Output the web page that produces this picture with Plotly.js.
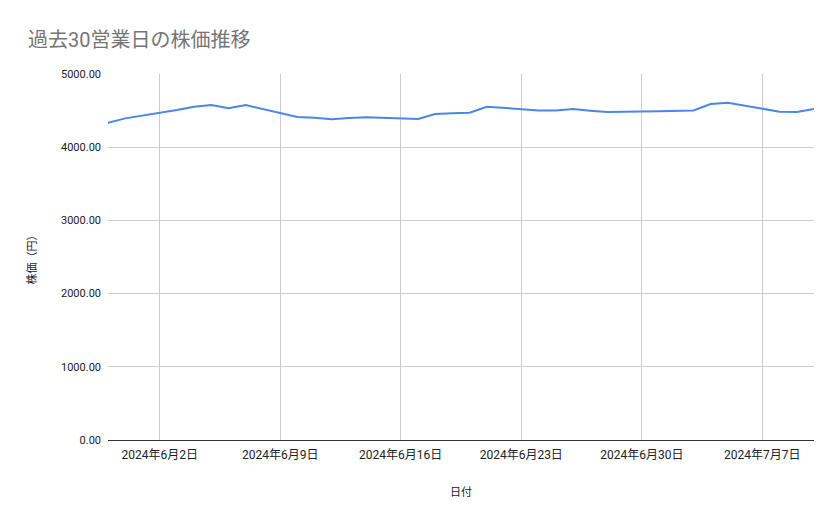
<!DOCTYPE html>
<html>
<head>
<meta charset="utf-8">
<script src="https://cdn.plot.ly/plotly-3.0.1.min.js"></script>
<style>
  html, body { margin: 0; padding: 0; background: #fff; }
  #chart { width: 839px; height: 519px; }
</style>
</head>
<body>
<div id="chart"></div>
<script>
// 過去30営業日 (business days only, weekends skipped)
const dates = [
  '2024-05-30', '2024-05-31',
  '2024-06-03', '2024-06-04', '2024-06-05', '2024-06-06', '2024-06-07',
  '2024-06-10', '2024-06-11', '2024-06-12', '2024-06-13', '2024-06-14',
  '2024-06-17', '2024-06-18', '2024-06-19', '2024-06-20', '2024-06-21',
  '2024-06-24', '2024-06-25', '2024-06-26', '2024-06-27', '2024-06-28',
  '2024-07-01', '2024-07-02', '2024-07-03', '2024-07-04', '2024-07-05',
  '2024-07-08', '2024-07-09', '2024-07-10'
];
const prices = [
  4334, 4394,
  4508, 4553, 4576, 4531, 4576,
  4412, 4403, 4381, 4399, 4408,
  4385, 4453, 4463, 4471, 4553,
  4503, 4503, 4521, 4499, 4480,
  4490, 4494, 4503, 4590, 4608,
  4485, 4480, 4521
];
const yTicks = [0, 1000, 2000, 3000, 4000, 5000];

const fontFamily = 'Roboto, "Noto Sans CJK JP", Arial, sans-serif';

const data = [
  {
    x: dates,
    y: prices,
    type: 'scatter',
    mode: 'lines',
    line: { color: '#4a86e8', width: 2 },
    hoverinfo: 'x+y'
  }
];

const layout = {
  width: 839,
  height: 519,
  paper_bgcolor: '#ffffff',
  plot_bgcolor: '#ffffff',
  margin: { l: 108, r: 25, t: 74, b: 79 },
  showlegend: false,
  font: { family: fontFamily, size: 11, color: '#222222' },
  title: {
    text: '過去30営業日の株価推移',
    font: { family: fontFamily, size: 20, color: '#757575' },
    x: 28 / 839,
    xanchor: 'left',
    y: 1 - 40 / 519,
    yanchor: 'middle'
  },
  xaxis: {
    type: 'date',
    range: [dates[0], dates[dates.length - 1]],
    tick0: '2024-06-02',
    dtick: 7 * 86400000,
    tickformat: '%Y年%-m月%-d日',
    showgrid: true,
    gridcolor: '#cccccc',
    gridwidth: 1,
    zeroline: false,
    showline: false,
    ticks: '',
    ticklabelstandoff: 6,
    tickfont: { family: fontFamily, size: 12, color: '#222222' },
    title: {
      text: '日付',
      font: { family: fontFamily, size: 11, color: '#222222' },
      standoff: 27
    },
    fixedrange: true
  },
  yaxis: {
    range: [0, 5000],
    tickvals: yTicks,
    tickformat: '.2f',
    showgrid: true,
    gridcolor: '#cccccc',
    gridwidth: 1,
    zeroline: true,
    zerolinecolor: '#333333',
    zerolinewidth: 1,
    showline: false,
    ticks: '',
    ticklabelstandoff: 6,
    tickfont: { family: fontFamily, size: 11, color: '#222222' },
    title: {
      text: '株価（円）',
      font: { family: fontFamily, size: 11, color: '#222222' },
      standoff: 22
    },
    fixedrange: true
  }
};

Plotly.newPlot('chart', data, layout, { displayModeBar: false, staticPlot: true });
</script>
</body>
</html>
